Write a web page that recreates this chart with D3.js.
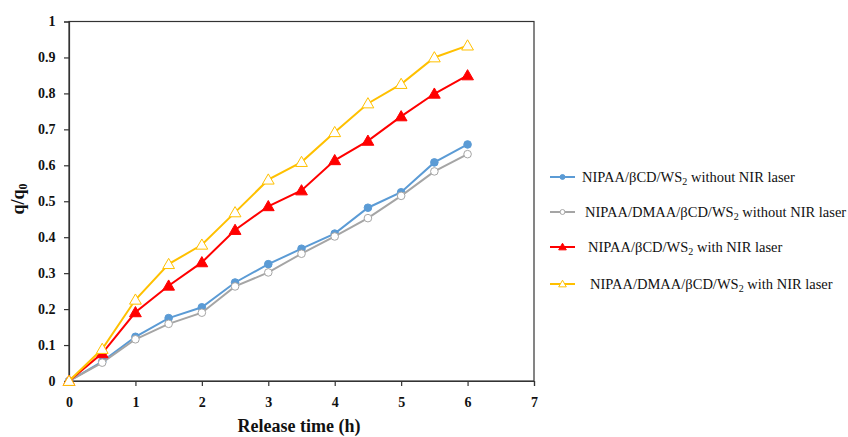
<!DOCTYPE html>
<html><head><meta charset="utf-8">
<script src="https://cdn.jsdelivr.net/npm/d3@7"></script>
<style>body{margin:0;background:#fff}svg{display:block}</style>
</head><body><svg id="c" width="848" height="437"></svg>
<script>
const times = [0,0.5,1,1.5,2,2.5,3,3.5,4,4.5,5,5.5,6];
const blueVals   = [0,0.054,0.123,0.175,0.205,0.274,0.325,0.368,0.41,0.482,0.525,0.608,0.658];
const grayVals   = [0,0.051,0.116,0.159,0.19,0.263,0.302,0.354,0.402,0.453,0.515,0.583,0.631];
const redVals    = [0,0.077,0.191,0.265,0.33,0.42,0.486,0.53,0.614,0.668,0.736,0.799,0.85];
const yellowVals = [0,0.089,0.226,0.325,0.379,0.469,0.56,0.609,0.692,0.772,0.826,0.9,0.933];
const seriesNames = ["NIPAA/βCD/WS|2| without NIR laser","NIPAA/DMAA/βCD/WS|2| without NIR laser","NIPAA/βCD/WS|2| with NIR laser","NIPAA/DMAA/βCD/WS|2| with NIR laser"];
const xTicks = [0,1,2,3,4,5,6,7];
const yTicks = [0,0.1,0.2,0.3,0.4,0.5,0.6,0.7,0.8,0.9,1];

const FONT = '"Liberation Serif"';
const svg = d3.select("#c");
const L=69,R=534,T=21.5,B=381;
const x = d3.scaleLinear().domain([0,7]).range([L,R]);
const y = d3.scaleLinear().domain([0,1]).range([B,T]);

svg.append("rect").attr("x",L).attr("y",T).attr("width",R-L).attr("height",B-T)
  .attr("fill","none").attr("stroke","#333").attr("stroke-width",1.2);

const xa = svg.append("g").attr("transform",`translate(0,${B})`)
  .call(d3.axisBottom(x).tickValues(xTicks).tickFormat(d3.format("d")).tickSizeOuter(0).tickSize(5));
const ya = svg.append("g").attr("transform",`translate(${L},0)`)
  .call(d3.axisLeft(y).tickValues(yTicks).tickFormat(d=>d===0?"0":d===1?"1":d3.format(".1f")(d)).tickSizeOuter(0).tickSize(5));
[xa,ya].forEach(a=>{
  a.select(".domain").attr("stroke","#333").attr("stroke-width",1.2);
  a.selectAll(".tick line").attr("stroke","#333").attr("stroke-width",1.2);
  a.selectAll("text").style("font-family",FONT).style("font-weight","bold").style("font-size","14px").attr("fill","#111");
});
xa.selectAll("text").attr("dy","1.25em");
ya.selectAll("text").attr("dx","-0.4em");

svg.append("text").attr("x",299).attr("y",432).attr("text-anchor","middle")
  .style("font-family",FONT).style("font-weight","bold").style("font-size","18px").attr("fill","#111")
  .text("Release time (h)");
const yt = svg.append("text").attr("transform","translate(24,199) rotate(-90)").attr("text-anchor","middle")
  .style("font-family",FONT).style("font-weight","bold").style("font-size","18px").attr("fill","#111");
yt.append("tspan").text("q/q");
yt.append("tspan").style("font-size","12px").attr("dy",3).text("0");

const series = [
  {vals:blueVals,color:"#5b9bd5",marker:"circle",fill:"#5b9bd5"},
  {vals:grayVals,color:"#a5a5a5",marker:"circle",fill:"#fff"},
  {vals:redVals,color:"#ff0000",marker:"triangle",fill:"#ff0000"},
  {vals:yellowVals,color:"#ffc000",marker:"triangle",fill:"#fff"}
];
const line = d3.line().x((d,i)=>x(times[i])).y(d=>y(d));
function marker(g,s,cx,cy,scale){
  if(s.marker==="circle"){
    g.append("circle").attr("cx",cx).attr("cy",cy).attr("r",3.8*scale)
      .attr("fill",s.fill).attr("stroke",s.color).attr("stroke-width",1);
  } else {
    g.append("path").attr("d",d3.symbol(d3.symbolTriangle,60*scale*scale)())
      .attr("transform",`translate(${cx},${cy+1*scale})`)
      .attr("fill",s.fill).attr("stroke",s.color).attr("stroke-width",1);
  }
}
series.forEach(s=>{
  const g = svg.append("g");
  g.append("path").datum(s.vals).attr("d",line).attr("fill","none").attr("stroke",s.color).attr("stroke-width",2);
  s.vals.forEach((v,i)=>marker(g,s,x(times[i]),y(v),1));
});

const legY=[177,212,247,284], legTX=[582,585,588,590];
seriesNames.forEach((name,i)=>{
  const s=series[i], g=svg.append("g");
  g.append("line").attr("x1",550).attr("x2",575).attr("y1",legY[i]).attr("y2",legY[i]).attr("stroke",s.color).attr("stroke-width",2);
  marker(g,s,562.5,legY[i],0.65);
  const t=g.append("text").attr("x",legTX[i]).attr("y",legY[i]+4.5)
    .style("font-family",FONT).style("font-size","14.5px").attr("fill","#111");
  const parts=name.split("|");
  t.append("tspan").text(parts[0]);
  t.append("tspan").style("font-size","10px").attr("dy",3).text(parts[1]);
  t.append("tspan").attr("dy",-3).text(parts[2]);
});
</script></body></html>
